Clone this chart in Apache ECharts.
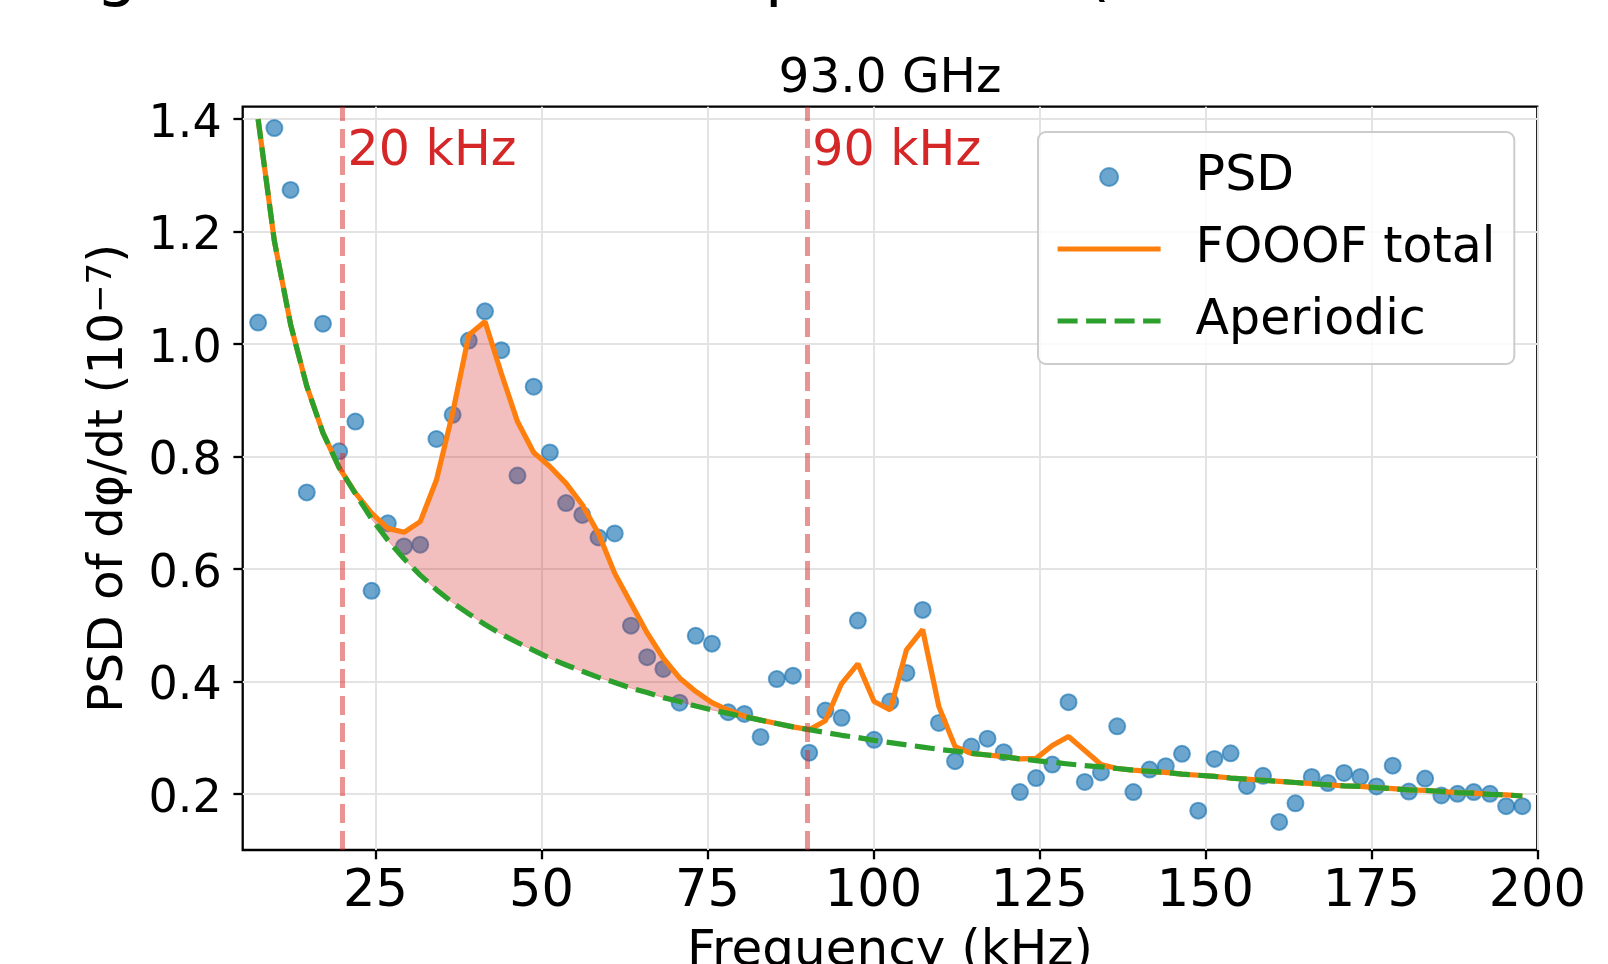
<!DOCTYPE html>
<html><head><meta charset="utf-8">
<script src="https://cdn.jsdelivr.net/npm/echarts@6/dist/echarts.min.js"></script>
<style>html,body{margin:0;padding:0;background:#fff}#chart{width:1608px;height:964px}</style>
</head><body><div id="chart"></div>
<script>
// ---- data ----
const freqKHz = [7.32, 9.77, 12.21, 14.65, 17.09, 19.53, 21.97, 24.41, 26.86, 29.30,
  31.74, 34.18, 36.62, 39.06, 41.50, 43.95, 46.39, 48.83, 51.27, 53.71,
  56.15, 58.59, 61.04, 63.48, 65.92, 68.36, 70.80, 73.24, 75.68, 78.13,
  80.57, 83.01, 85.45, 87.89, 90.33, 92.77, 95.21, 97.66, 100.10, 102.54,
  104.98, 107.42, 109.86, 112.30, 114.75, 117.19, 119.63, 122.07, 124.51, 126.95,
  129.39, 131.84, 134.28, 136.72, 139.16, 141.60, 144.04, 146.48, 148.93, 151.37,
  153.81, 156.25, 158.69, 161.13, 163.57, 166.02, 168.46, 170.90, 173.34, 175.78,
  178.22, 180.66, 183.11, 185.55, 187.99, 190.43, 192.87, 195.31, 197.75];
const psd = [1.038, 1.384, 1.274, 0.736, 1.036, 0.809, 0.862, 0.561, 0.681, 0.640,
  0.643, 0.831, 0.874, 1.006, 1.058, 0.989, 0.766, 0.924, 0.807, 0.717,
  0.696, 0.656, 0.663, 0.499, 0.443, 0.422, 0.362, 0.481, 0.467, 0.345,
  0.342, 0.301, 0.404, 0.410, 0.273, 0.348, 0.335, 0.508, 0.296, 0.364,
  0.415, 0.527, 0.326, 0.258, 0.284, 0.298, 0.274, 0.203, 0.228, 0.252,
  0.363, 0.221, 0.238, 0.320, 0.203, 0.243, 0.249, 0.271, 0.170, 0.262,
  0.272, 0.214, 0.232, 0.150, 0.183, 0.230, 0.219, 0.237, 0.230, 0.213,
  0.250, 0.204, 0.227, 0.197, 0.200, 0.203, 0.200, 0.178, 0.178];
const fooofTotal = [1.400, 1.183, 1.035, 0.925, 0.842, 0.780, 0.735, 0.699, 0.672, 0.665,
  0.684, 0.758, 0.877, 1.016, 1.040, 0.948, 0.862, 0.807, 0.782, 0.752,
  0.714, 0.663, 0.592, 0.539, 0.486, 0.441, 0.406, 0.382, 0.362, 0.349,
  0.338, 0.331, 0.325, 0.319, 0.314, 0.330, 0.396, 0.431, 0.364, 0.349,
  0.456, 0.492, 0.355, 0.284, 0.272, 0.269, 0.266, 0.262, 0.263, 0.286,
  0.302, 0.277, 0.252, 0.245, 0.242, 0.240, 0.238, 0.235, 0.233, 0.231,
  0.228, 0.226, 0.224, 0.222, 0.220, 0.218, 0.216, 0.214, 0.213, 0.211,
  0.209, 0.207, 0.206, 0.204, 0.202, 0.201, 0.199, 0.198, 0.196];
const aperiodic = [1.400, 1.183, 1.035, 0.925, 0.842, 0.780, 0.734, 0.689, 0.651, 0.618,
  0.589, 0.563, 0.540, 0.520, 0.501, 0.484, 0.469, 0.455, 0.441, 0.429,
  0.418, 0.407, 0.398, 0.388, 0.380, 0.371, 0.364, 0.356, 0.349, 0.343,
  0.337, 0.331, 0.325, 0.319, 0.314, 0.309, 0.304, 0.300, 0.295, 0.291,
  0.287, 0.283, 0.279, 0.276, 0.272, 0.269, 0.266, 0.262, 0.259, 0.256,
  0.253, 0.250, 0.248, 0.245, 0.242, 0.240, 0.238, 0.235, 0.233, 0.231,
  0.228, 0.226, 0.224, 0.222, 0.220, 0.218, 0.216, 0.214, 0.213, 0.211,
  0.209, 0.207, 0.206, 0.204, 0.202, 0.201, 0.199, 0.198, 0.196];
const bandEdges = [20, 90];
const bandLabels = ['20 kHz', '90 kHz'];
const xTicks = [25, 50, 75, 100, 125, 150, 175, 200];
const yTicks = [0.2, 0.4, 0.6, 0.8, 1.0, 1.2, 1.4];
const seriesNames = ['PSD', 'FOOOF total', 'Aperiodic'];
const panelTitle = '93.0 GHz';
const figTitle = 'Averaged background-subtracted spectrum  (FOOOF model fit, all channels)';
const xName = 'Frequency (kHz)';
const yName = 'PSD of dφ/dt (10{sup|−7})';

// ---- chart ----
const FONT = 'DejaVu Sans';
const G = {left: 242.7, right: 70.7, top: 106.7, bottom: 114};
const chart = echarts.init(document.getElementById('chart'), null, {renderer: 'canvas', width: 1608, height: 964});

const psdPts = freqKHz.map((f, i) => [f, psd[i]]);
const totPts = freqKHz.map((f, i) => [f, fooofTotal[i]]);
const apPts = freqKHz.map((f, i) => [f, aperiodic[i]]);
const fillIdx = freqKHz.map((f, i) => i).filter(i => freqKHz[i] >= bandEdges[0] && freqKHz[i] <= bandEdges[1]);

const LW = 5.2;
const option = {
  animation: false,
  backgroundColor: '#ffffff',
  grid: {left: G.left, right: G.right, top: G.top, bottom: G.bottom, show: true,
    borderColor: '#000', borderWidth: 2.3, backgroundColor: 'transparent', containLabel: false, outerBoundsMode: 'none'},
  legend: {
    data: [{name: seriesNames[0]},
      {name: seriesNames[1], itemStyle: {opacity: 0}},
      {name: seriesNames[2], itemStyle: {opacity: 0}}],
    orient: 'vertical', left: 1038, top: 132, selectedMode: false,
    itemWidth: 103, itemHeight: 18, itemGap: 16, padding: [17, 19, 15, 17],
    lineStyle: {width: LW},
    backgroundColor: 'rgba(255,255,255,0.8)', borderColor: '#cccccc', borderWidth: 2, borderRadius: 8,
    textStyle: {fontFamily: FONT, fontSize: 49, color: '#000', lineHeight: 56, padding: [0, 0, 0, 30]}
  },
  xAxis: {
    type: 'value', min: 5, max: 200,
    axisLine: {show: false},
    axisTick: {show: true, customValues: xTicks, length: 9.3, lineStyle: {color: '#000', width: 2.3}},
    axisLabel: {show: true, customValues: xTicks, fontFamily: FONT, fontSize: 51, color: '#000', margin: 17,
      formatter: v => String(v)},
    splitLine: {show: true, lineStyle: {color: '#e3e3e3', width: 2}},
    name: xName, nameLocation: 'middle', nameGap: 77, nameMoveOverlap: false,
    nameTextStyle: {fontFamily: FONT, fontSize: 50, color: '#000'}
  },
  yAxis: {
    type: 'value', min: 0.1, max: 1.422,
    axisLine: {show: false},
    axisTick: {show: true, customValues: yTicks, length: 9.3, lineStyle: {color: '#000', width: 2.3}},
    axisLabel: {show: true, customValues: yTicks, fontFamily: FONT, fontSize: 46, color: '#000', margin: 21,
      verticalAlign: 'top', lineHeight: 12, formatter: v => Number(v).toFixed(1)},
    splitLine: {show: true, lineStyle: {color: '#e3e3e3', width: 2}},
    name: yName, nameLocation: 'middle', nameGap: 109, nameRotate: 90, nameMoveOverlap: false,
    nameTextStyle: {fontFamily: FONT, fontSize: 48.5, color: '#000',
      rich: {sup: {fontFamily: FONT, fontSize: 34, color: '#000', verticalAlign: 'top', lineHeight: 34}}}
  },
  series: [
    {name: seriesNames[0], type: 'scatter', data: psdPts, symbol: 'circle', symbolSize: 16, z: 2, silent: true,
      itemStyle: {color: 'rgba(31,119,180,0.82)', borderColor: 'rgba(31,119,180,0.82)', borderWidth: 2}},
    {name: 'band', type: 'custom', z: 3, silent: true,
      data: [[freqKHz[fillIdx[0]], fooofTotal[fillIdx[0]]]],
      renderItem: function (params, api) {
        const upper = fillIdx.map(i => api.coord([freqKHz[i], fooofTotal[i]]));
        const lower = fillIdx.slice().reverse().map(i => api.coord([freqKHz[i], aperiodic[i]]));
        return {type: 'polygon', shape: {points: upper.concat(lower)},
          style: {fill: 'rgba(214,39,40,0.3)', stroke: 'rgba(214,39,40,0.3)', lineWidth: 1}};
      }},
    {name: seriesNames[1], type: 'line', data: totPts, symbol: 'none', showSymbol: false, z: 4, silent: true,
      lineStyle: {color: '#ff7f0e', width: LW}, itemStyle: {color: '#ff7f0e'}},
    {name: seriesNames[2], type: 'line', data: apPts, symbol: 'none', showSymbol: false, z: 5, silent: true,
      lineStyle: {color: '#2ca02c', width: LW, type: [20, 8.5]}, itemStyle: {color: '#2ca02c'},
      markLine: {silent: true, symbol: ['none', 'none'], label: {show: false}, z: 6,
        lineStyle: {color: 'rgba(214,39,40,0.5)', width: 5, type: [19, 8]},
        data: bandEdges.map(v => ({xAxis: v}))}}
  ]
};
chart.setOption(option);

// text elements positioned through the chart's own scales
const gridCx = G.left + (1608 - G.left - G.right) / 2;
const graphics = [
  {type: 'text', silent: true, x: gridCx, y: 54.6,
    style: {text: panelTitle, fill: '#000', fontFamily: FONT, fontSize: 48.5, align: 'center', verticalAlign: 'top'}},
  {type: 'text', silent: true, x: -395, y: -57,
    style: {text: figTitle, fill: '#000', fontFamily: FONT, fontSize: 66, align: 'left', verticalAlign: 'top'}}
];
bandEdges.forEach((v, i) => {
  const p = chart.convertToPixel({gridIndex: 0}, [v, 1.4]);
  graphics.push({type: 'text', silent: true, x: p[0] + 5.3, y: G.top + 21,
    style: {text: bandLabels[i], fill: '#d62728', fontFamily: FONT, fontSize: 49, align: 'left', verticalAlign: 'top'}});
});
chart.setOption({graphic: graphics});
</script></body></html>
